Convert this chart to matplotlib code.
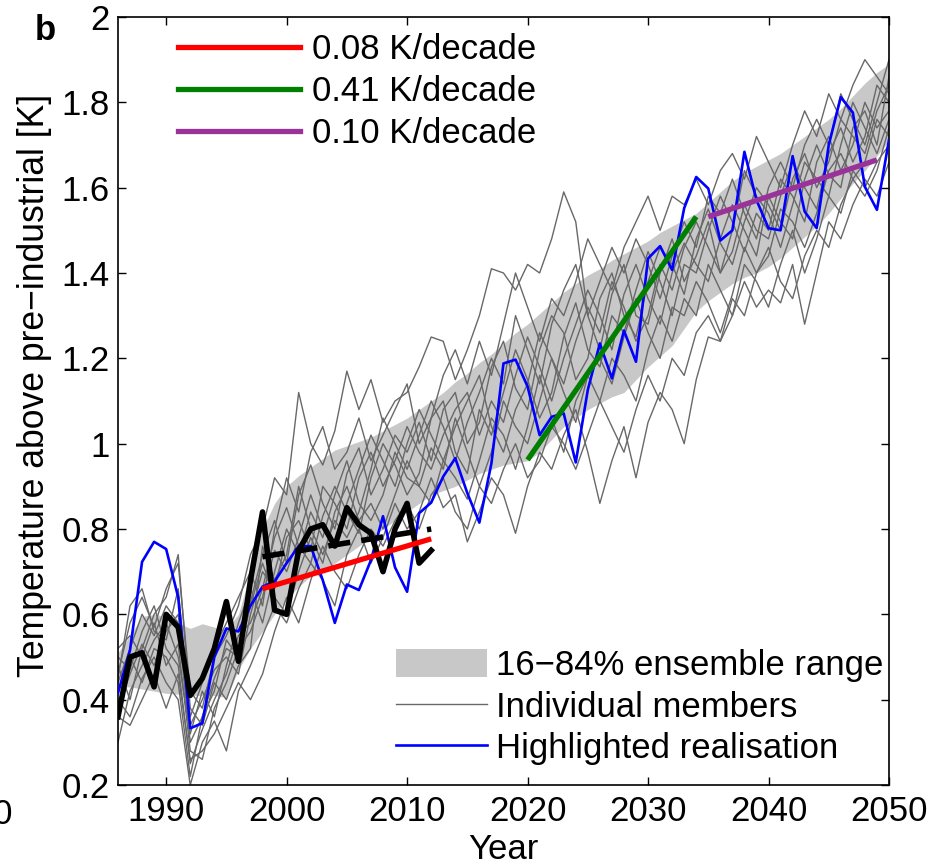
import numpy as np
import matplotlib.pyplot as plt
from matplotlib.patches import Patch
from matplotlib.lines import Line2D

plt.rcParams['font.family'] = ['Liberation Sans', 'DejaVu Sans']

years = np.arange(1986, 2051)
obs_years = np.arange(1986, 2013)

# observations (thick black)
obs = [0.36, 0.50, 0.51, 0.43, 0.60, 0.57, 0.41, 0.45, 0.52, 0.63,
       0.49, 0.68, 0.84, 0.61, 0.60, 0.75, 0.80, 0.81, 0.76, 0.85,
       0.81, 0.79, 0.70, 0.80, 0.86, 0.72, 0.75]

# highlighted realisation (blue)
blue = [0.415, 0.516, 0.723, 0.770, 0.753, 0.640, 0.333, 0.345, 0.500, 0.567,
        0.560, 0.620, 0.665, 0.677, 0.720, 0.760, 0.760, 0.680, 0.580, 0.670,
        0.657, 0.727, 0.830, 0.710, 0.653, 0.837, 0.862, 0.923, 0.966, 0.884,
        0.815, 0.954, 1.188, 1.197, 1.134, 1.020, 1.063, 1.071, 0.956, 1.126,
        1.235, 1.153, 1.265, 1.192, 1.434, 1.463, 1.407, 1.552, 1.625, 1.598,
        1.476, 1.500, 1.684, 1.571, 1.505, 1.500, 1.674, 1.544, 1.505, 1.700,
        1.812, 1.776, 1.602, 1.548, 1.712]

# 16-84% ensemble range
band_lo = [0.43, 0.43, 0.425, 0.42, 0.415, 0.413, 0.41, 0.41, 0.41, 0.405,
           0.47, 0.52, 0.56, 0.60, 0.635, 0.665, 0.69, 0.705, 0.72, 0.74,
           0.76, 0.78, 0.80, 0.82, 0.84, 0.86, 0.88, 0.89, 0.90, 0.915,
           0.93, 0.94, 0.95, 0.955, 0.96, 0.98, 1.01, 1.04, 1.06, 1.08,
           1.095, 1.11, 1.12, 1.15, 1.18, 1.205, 1.23, 1.27, 1.31, 1.335,
           1.355, 1.375, 1.39, 1.40, 1.415, 1.435, 1.46, 1.485, 1.51, 1.54,
           1.575, 1.61, 1.64, 1.675, 1.71]
band_hi = [0.51, 0.55, 0.595, 0.60, 0.595, 0.58, 0.567, 0.578, 0.57, 0.565,
           0.60, 0.70, 0.80, 0.86, 0.90, 0.925, 0.945, 0.965, 0.985, 0.995,
           1.005, 1.015, 1.03, 1.045, 1.06, 1.08, 1.10, 1.12, 1.145, 1.165,
           1.19, 1.21, 1.235, 1.26, 1.28, 1.305, 1.33, 1.355, 1.375, 1.395,
           1.41, 1.43, 1.445, 1.46, 1.475, 1.495, 1.51, 1.525, 1.54, 1.565,
           1.59, 1.615, 1.635, 1.65, 1.665, 1.68, 1.70, 1.72, 1.74, 1.76,
           1.785, 1.815, 1.845, 1.87, 1.89]

# individual members (thin grey)
m1 = [0.44, 0.52, 0.60, 0.55, 0.62, 0.58, 0.30, 0.36, 0.45, 0.52,
      0.50, 0.63, 0.74, 0.82, 0.72, 0.88, 0.95, 0.86, 0.80, 0.93,
      0.99, 0.88, 0.94, 1.02, 0.98, 1.05, 0.96, 1.08, 1.12, 1.00,
      1.05, 1.18, 1.24, 1.13, 1.08, 1.22, 1.30, 1.26, 1.15, 1.20,
      1.34, 1.40, 1.30, 1.25, 1.38, 1.46, 1.42, 1.35, 1.48, 1.55,
      1.47, 1.42, 1.52, 1.60, 1.56, 1.50, 1.62, 1.68, 1.60, 1.66,
      1.76, 1.72, 1.68, 1.78, 1.84]
m2 = [0.50, 0.47, 0.56, 0.62, 0.52, 0.48, 0.25, 0.33, 0.40, 0.46,
      0.55, 0.58, 0.66, 0.78, 0.85, 0.76, 0.72, 0.83, 0.90, 0.84,
      0.79, 0.92, 1.00, 0.95, 0.88, 0.93, 1.06, 1.10, 0.98, 0.93,
      1.08, 1.02, 1.12, 1.22, 1.15, 1.06, 1.12, 1.25, 1.33, 1.22,
      1.18, 1.30, 1.26, 1.36, 1.45, 1.38, 1.30, 1.42, 1.40, 1.50,
      1.58, 1.52, 1.45, 1.54, 1.50, 1.62, 1.58, 1.52, 1.66, 1.72,
      1.64, 1.70, 1.80, 1.74, 1.78]
m3 = [0.46, 0.58, 0.64, 0.57, 0.66, 0.72, 0.42, 0.38, 0.50, 0.55,
      0.62, 0.74, 0.80, 0.92, 0.88, 1.12, 1.00, 0.95, 1.03, 1.17,
      1.08, 1.15, 1.05, 1.10, 1.12, 1.18, 1.25, 1.24, 1.15, 1.22,
      1.30, 1.41, 1.40, 1.36, 1.42, 1.40, 1.48, 1.59, 1.52, 1.30,
      1.22, 1.35, 1.42, 1.30, 1.28, 1.40, 1.48, 1.38, 1.44, 1.52,
      1.40, 1.45, 1.56, 1.50, 1.48, 1.58, 1.66, 1.60, 1.55, 1.68,
      1.74, 1.66, 1.72, 1.84, 1.80]
m4 = [0.40, 0.36, 0.45, 0.50, 0.44, 0.40, 0.20, 0.30, 0.35, 0.28,
      0.42, 0.48, 0.55, 0.62, 0.58, 0.66, 0.72, 0.68, 0.62, 0.74,
      0.80, 0.72, 0.78, 0.86, 0.80, 0.84, 0.92, 0.85, 0.88, 0.77,
      0.84, 0.92, 0.88, 0.79, 0.90, 0.98, 0.94, 1.02, 1.08, 0.98,
      0.86, 0.96, 1.04, 0.92, 1.05, 1.12, 1.08, 1.00, 1.15, 1.25,
      1.24, 1.30, 1.38, 1.32, 1.36, 1.33, 1.42, 1.28, 1.40, 1.52,
      1.48, 1.56, 1.62, 1.58, 1.66]
m5 = [0.38, 0.46, 0.53, 0.48, 0.56, 0.60, 0.34, 0.40, 0.47, 0.50,
      0.46, 0.60, 0.70, 0.66, 0.78, 0.82, 0.75, 0.90, 0.86, 0.80,
      0.92, 0.98, 0.90, 0.96, 1.04, 0.98, 0.94, 1.02, 1.08, 1.12,
      1.02, 1.10, 1.05, 1.16, 1.25, 1.18, 1.10, 1.20, 1.28, 1.36,
      1.30, 1.22, 1.35, 1.42, 1.34, 1.28, 1.40, 1.47, 1.42, 1.38,
      1.48, 1.56, 1.50, 1.44, 1.58, 1.52, 1.48, 1.62, 1.70, 1.63,
      1.60, 1.74, 1.78, 1.70, 1.86]
m6 = [0.52, 0.55, 0.50, 0.58, 0.48, 0.53, 0.28, 0.26, 0.38, 0.44,
      0.52, 0.56, 0.64, 0.75, 0.70, 0.78, 0.88, 0.80, 0.76, 0.86,
      0.94, 1.02, 0.96, 0.90, 1.00, 1.08, 1.02, 0.96, 1.04, 1.10,
      1.16, 1.04, 0.98, 1.08, 1.14, 1.26, 1.20, 1.14, 1.24, 1.32,
      1.26, 1.38, 1.32, 1.24, 1.30, 1.42, 1.36, 1.46, 1.52, 1.46,
      1.40, 1.50, 1.64, 1.58, 1.54, 1.46, 1.56, 1.66, 1.62, 1.58,
      1.70, 1.80, 1.74, 1.68, 1.76]
m7 = [0.30, 0.42, 0.48, 0.54, 0.58, 0.50, 0.32, 0.42, 0.36, 0.48,
      0.58, 0.66, 0.58, 0.70, 0.80, 0.74, 0.84, 0.78, 0.88, 0.96,
      0.86, 0.82, 0.88, 0.98, 0.92, 0.90, 0.99, 0.94, 1.06, 0.98,
      0.90, 0.98, 1.10, 1.04, 1.00, 1.10, 1.20, 1.12, 1.05, 1.16,
      1.20, 1.14, 1.25, 1.34, 1.26, 1.20, 1.32, 1.30, 1.38, 1.33,
      1.26, 1.35, 1.46, 1.40, 1.44, 1.55, 1.52, 1.46, 1.54, 1.64,
      1.68, 1.62, 1.66, 1.76, 1.72]
m8 = [0.48, 0.40, 0.52, 0.60, 0.64, 0.74, 0.38, 0.34, 0.44, 0.40,
      0.48, 0.52, 0.76, 0.68, 0.74, 0.90, 0.80, 0.74, 0.82, 0.78,
      0.84, 0.94, 1.06, 1.00, 0.94, 1.02, 1.10, 1.04, 0.96, 1.05,
      1.12, 1.20, 1.14, 1.30, 1.22, 1.14, 1.28, 1.36, 1.42, 1.30,
      1.38, 1.46, 1.40, 1.48, 1.42, 1.34, 1.44, 1.52, 1.46, 1.58,
      1.54, 1.62, 1.54, 1.48, 1.60, 1.66, 1.60, 1.70, 1.76, 1.70,
      1.82, 1.76, 1.70, 1.80, 1.90]
m9 = [0.42, 0.50, 0.44, 0.52, 0.50, 0.44, 0.22, 0.36, 0.42, 0.54,
      0.50, 0.62, 0.72, 0.64, 0.60, 0.70, 0.78, 0.72, 0.84, 0.90,
      0.82, 0.86, 0.80, 0.88, 0.96, 0.90, 0.86, 0.96, 0.92, 0.87,
      0.96, 1.06, 1.02, 0.94, 1.04, 1.16, 1.06, 0.98, 1.10, 1.16,
      1.10, 1.20, 1.16, 1.10, 1.22, 1.30, 1.24, 1.34, 1.30, 1.42,
      1.36, 1.30, 1.42, 1.38, 1.32, 1.42, 1.50, 1.40, 1.48, 1.58,
      1.54, 1.64, 1.60, 1.66, 1.70]
m10 = [0.45, 0.62, 0.66, 0.56, 0.54, 0.66, 0.36, 0.44, 0.52, 0.58,
       0.64, 0.70, 0.62, 0.80, 0.92, 0.84, 0.98, 1.04, 0.94, 0.98,
       1.06, 0.96, 1.02, 1.08, 1.14, 1.00, 1.06, 1.16, 1.22, 1.14,
       1.24, 1.16, 1.28, 1.40, 1.32, 1.24, 1.34, 1.30, 1.38, 1.48,
       1.42, 1.36, 1.46, 1.52, 1.58, 1.50, 1.58, 1.56, 1.62, 1.56,
       1.64, 1.68, 1.62, 1.72, 1.66, 1.60, 1.70, 1.78, 1.72, 1.82,
       1.76, 1.84, 1.90, 1.86, 1.82]
m11 = [0.36, 0.34, 0.40, 0.46, 0.38, 0.46, 0.26, 0.28, 0.32, 0.38,
       0.44, 0.40, 0.46, 0.56, 0.64, 0.58, 0.68, 0.76, 0.70, 0.66,
       0.74, 0.80, 0.76, 0.82, 0.86, 0.80, 0.88, 0.92, 0.84, 0.80,
       0.90, 0.86, 0.94, 1.00, 0.92, 0.96, 1.04, 1.00, 0.94, 1.02,
       1.10, 1.04, 0.98, 1.08, 1.16, 1.10, 1.20, 1.16, 1.26, 1.30,
       1.24, 1.34, 1.30, 1.40, 1.46, 1.38, 1.34, 1.44, 1.50, 1.46,
       1.56, 1.62, 1.58, 1.64, 1.74]
members = [m1, m2, m3, m4, m5, m6, m7, m8, m9, m10, m11]

# 15-year trends
red_years, red_vals = [1998, 2012], [0.660, 0.777]
green_years, green_vals = [2020, 2034], [0.962, 1.532]
purple_years, purple_vals = [2035, 2049], [1.532, 1.665]
dash_years, dash_vals = [1998, 2012], [0.735, 0.800]

band_col = '#c8c8c8'
grey_col = '#686868'
purple_col = '#993399'
fs = 25

fig = plt.figure(figsize=(9.34, 8.66), dpi=100)
ax = fig.add_axes([0.1263, 0.0935, 0.8255, 0.8869])

ax.fill_between(years, band_lo, band_hi, color=band_col, lw=0, zorder=1)
for m in members:
    ax.plot(years, m, color=grey_col, lw=1.0, zorder=2)
ax.plot(years, blue, color='#0000ff', lw=1.9, zorder=3)
ax.plot(obs_years, obs, color='k', lw=4, zorder=4)
ax.plot(dash_years, dash_vals, color='k', lw=4, ls=(0, (4, 2)), zorder=4)
ax.plot(red_years, red_vals, color='#ff0000', lw=3.8, solid_capstyle='butt', zorder=5)
ax.plot(green_years, green_vals, color='#008000', lw=3.8, solid_capstyle='butt', zorder=5)
ax.plot(purple_years, purple_vals, color=purple_col, lw=3.8, solid_capstyle='butt', zorder=5)

ax.set_xlim(1986, 2050)
ax.set_ylim(0.2, 2)
ax.set_xticks(np.arange(1990, 2051, 10))
yt = np.arange(0.2, 2.01, 0.2)
ax.set_yticks(yt)
ax.set_yticklabels(['%g' % round(v, 1) for v in yt])
ax.tick_params(direction='in', length=6, width=1, top=True, right=True,
               labelsize=fs)
ax.tick_params(axis='x', pad=7)
ax.tick_params(axis='y', pad=6)
for s in ax.spines.values():
    s.set_linewidth(1.2)

ax.set_xlabel('Year', fontsize=fs)
ax.xaxis.set_label_coords(0.5, -0.063)
ax.set_ylabel('Temperature above pre\u2212industrial [K]', fontsize=25.6)
ax.yaxis.set_label_coords(-0.086, 0.52)

h1 = [Line2D([], [], color='#ff0000', lw=3.8),
      Line2D([], [], color='#008000', lw=3.8),
      Line2D([], [], color=purple_col, lw=3.8)]
leg1 = ax.legend(h1, ['0.08 K/decade', '0.41 K/decade', '0.10 K/decade'],
                 loc='upper left', bbox_to_anchor=(178 / 934, 1 - 33 / 866),
                 bbox_transform=fig.transFigure, frameon=False, fontsize=fs,
                 handlelength=3.5, handletextpad=0.37, labelspacing=0.26,
                 borderpad=0, borderaxespad=0)
ax.add_artist(leg1)

h2 = [Patch(facecolor=band_col, edgecolor='none'),
      Line2D([], [], color=grey_col, lw=1.0),
      Line2D([], [], color='#0000ff', lw=1.9)]
ax.legend(h2, ['16\u221284% ensemble range', 'Individual members',
               'Highlighted realisation'],
          loc='upper left', bbox_to_anchor=(396 / 934, 1 - 649 / 866),
          bbox_transform=fig.transFigure, frameon=False, fontsize=fs,
          handlelength=2.62, handleheight=0.87, handletextpad=0.26,
          labelspacing=0.245, borderpad=0, borderaxespad=0)

fig.text(0.048, 0.965, 'b', fontsize=fs, fontweight='bold', ha='center', va='center')
# tail of the neighbouring panel's tick label
fig.text(0.0135, 0.059, '2050', fontsize=fs, ha='right', va='center')

fig.savefig('out.png', dpi=100)
